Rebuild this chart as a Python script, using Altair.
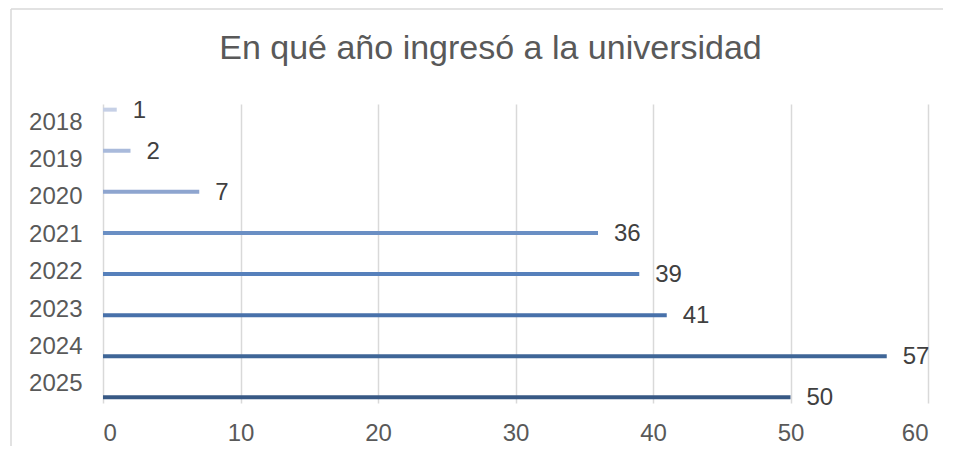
import altair as alt
import pandas as pd

years = ["2018", "2019", "2020", "2021", "2022", "2023", "2024", "2025"]
counts = [1, 2, 7, 36, 39, 41, 57, 50]
colors = ["#c6d0e6", "#a9badb", "#8ea5cf", "#6a8fc4", "#5680bb", "#4871aa", "#3f6697", "#385985"]
x_ticks = [0, 10, 20, 30, 40, 50, 60]

df = pd.DataFrame({"year": years, "count": counts})

FONT = "Liberation Sans"

xenc = alt.X("count:Q",
             scale=alt.Scale(domain=[0, 60], nice=False, zero=True),
             axis=alt.Axis(values=x_ticks, title=None, domain=False, ticks=False,
                           grid=True, gridColor="#d9d9d9", gridWidth=1.5,
                           labelFontSize=24, labelColor="#595959", labelFont=FONT,
                           labelPadding=18))

# invisible layer carrying the category axis (band positions)
axis_layer = alt.Chart(df).mark_point(opacity=0).encode(
    x=xenc,
    y=alt.Y("year:N", sort=years,
            scale=alt.Scale(type="band", paddingInner=0, paddingOuter=0),
            axis=alt.Axis(title=None, domain=False, ticks=False, grid=False,
                          labelFontSize=24, labelColor="#595959", labelFont=FONT,
                          labelPadding=21, orient="left")),
)

ybar = alt.Y("year:N", sort=years, scale=alt.Scale(type="point", padding=0.1375), axis=None)

bars = alt.Chart(df).mark_rule(strokeWidth=4, strokeCap="butt").encode(
    x=alt.X("count:Q"),
    x2=alt.datum(0),
    y=ybar,
    color=alt.Color("year:N", scale=alt.Scale(domain=years, range=colors), legend=None),
)

labels = alt.Chart(df).mark_text(align="left", baseline="middle", dx=16, dy=1,
                                 fontSize=24, color="#404040", font=FONT).encode(
    x=alt.X("count:Q"),
    y=ybar,
    text=alt.Text("count:Q"),
)

border_data = alt.Data(values=[{"k": 1}])
border_v = alt.Chart(border_data).mark_rule(color="#d9d9d9", strokeWidth=1.5).encode(
    x=alt.value(-92), y=alt.value(-95), y2=alt.value(360))
border_h = alt.Chart(border_data).mark_rule(color="#d9d9d9", strokeWidth=1.5).encode(
    x=alt.value(-92), x2=alt.value(840), y=alt.value(-95))

bar_layer = alt.layer(bars, labels)

chart = alt.layer(axis_layer, bar_layer, border_v, border_h).resolve_scale(
    y="independent"
).properties(
    width=825,
    height=299,
    autosize=alt.AutoSizeParams(type="none"),
    padding={"left": 95, "top": 96, "right": 21, "bottom": 43},
    title=alt.TitleParams("En qué año ingresó a la universidad", fontSize=34,
                          font=FONT, fontWeight="normal", color="#595959",
                          anchor="middle", frame="group", dx=-25,
                          baseline="alphabetic", offset=-85),
).configure_view(strokeWidth=0)

chart.save("out.html", embed_options={"renderer": "svg", "actions": False})
